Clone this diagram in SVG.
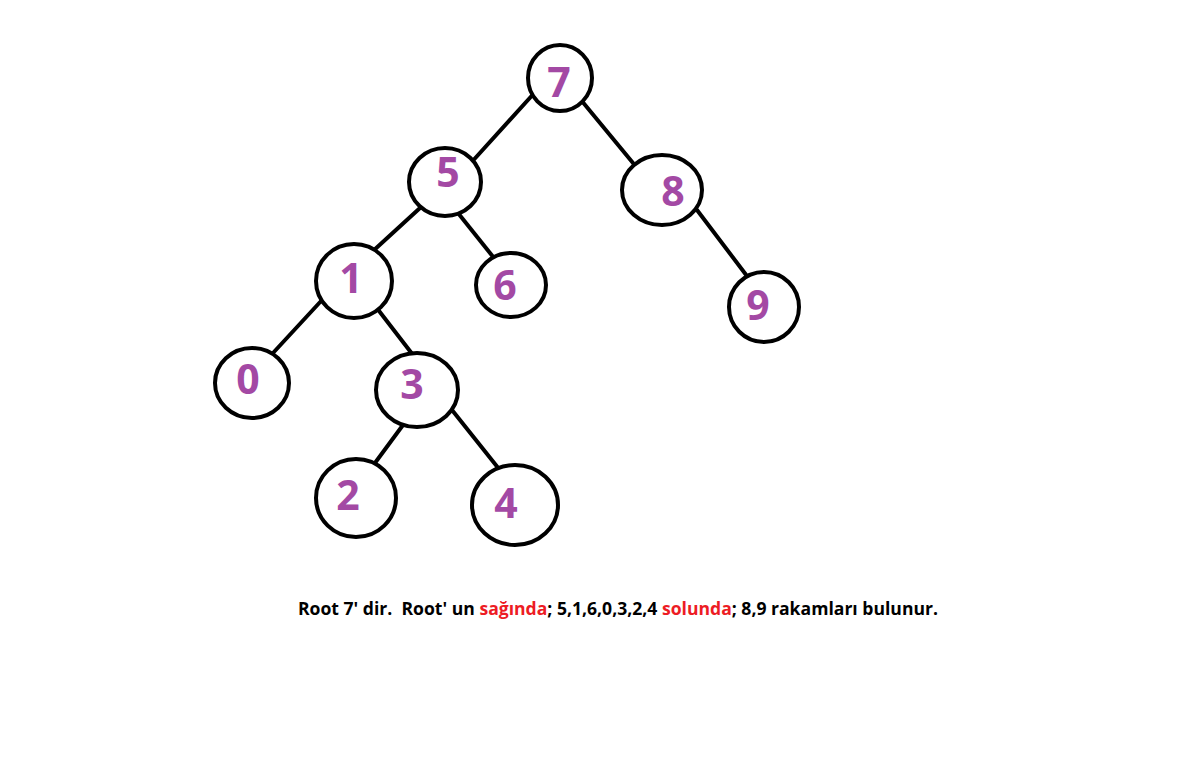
<svg xmlns="http://www.w3.org/2000/svg" width="1181" height="779" viewBox="0 0 1181 779">
  <style>
    .node ellipse { fill: #ffffff; stroke: #000000; stroke-width: 4; }
    .node text { font-family: "Open Sans", "Liberation Sans", sans-serif; font-weight: bold; font-size: 41px; fill: #A349A4; text-anchor: middle; }
    #edges line { stroke: #000000; stroke-width: 4; stroke-linecap: round; }
    .caption { font-family: "Open Sans", "Liberation Sans", sans-serif; font-weight: bold; font-size: 17px; fill: #000000; white-space: pre; }
    .hl { fill: #ED1C24; }
  </style>
  <rect width="1181" height="779" fill="#ffffff"/>

  <!-- tree edges -->
  <g id="edges">
    <line x1="537" y1="90" x2="469" y2="165"/>
    <line x1="581" y1="100" x2="633" y2="163"/>
    <line x1="420" y1="208" x2="373" y2="251"/>
    <line x1="458" y1="213" x2="498" y2="263"/>
    <line x1="697" y1="210" x2="753" y2="284"/>
    <line x1="322" y1="300" x2="273" y2="353"/>
    <line x1="376" y1="307" x2="413" y2="355"/>
    <line x1="403" y1="425" x2="372" y2="467"/>
    <line x1="452" y1="410" x2="499" y2="469"/>
  </g>

  <!-- nodes -->
  <g id="n7" class="node"><ellipse cx="560" cy="78" rx="32" ry="33"/><text x="559" y="97">7</text></g>
  <g id="n5" class="node"><ellipse cx="445" cy="182" rx="36" ry="34"/><text x="448" y="187">5</text></g>
  <g id="n8" class="node"><ellipse cx="662" cy="190" rx="40" ry="35"/><text x="673" y="206">8</text></g>
  <g id="n1" class="node"><ellipse cx="354" cy="281" rx="38" ry="37"/><text x="351" y="293">1</text></g>
  <g id="n6" class="node"><ellipse cx="511" cy="285" rx="35" ry="32"/><text x="505" y="300">6</text></g>
  <g id="n9" class="node"><ellipse cx="764" cy="307" rx="35" ry="35"/><text x="758" y="320">9</text></g>
  <g id="n0" class="node"><ellipse cx="252" cy="383" rx="37" ry="35"/><text x="248" y="394">0</text></g>
  <g id="n3" class="node"><ellipse cx="417" cy="390" rx="41" ry="37"/><text x="412" y="399">3</text></g>
  <g id="n2" class="node"><ellipse cx="356" cy="498" rx="40" ry="39"/><text x="348" y="510">2</text></g>
  <g id="n4" class="node"><ellipse cx="515" cy="505" rx="43" ry="40"/><text x="506" y="518">4</text></g>

  <!-- caption -->
  <text class="caption" x="298" y="615" textLength="640" lengthAdjust="spacingAndGlyphs" xml:space="preserve">Root 7' dir.  Root' un <tspan class="hl">sağında</tspan>; 5,1,6,0,3,2,4 <tspan class="hl">solunda</tspan>; 8,9 rakamları bulunur.</text>
</svg>
